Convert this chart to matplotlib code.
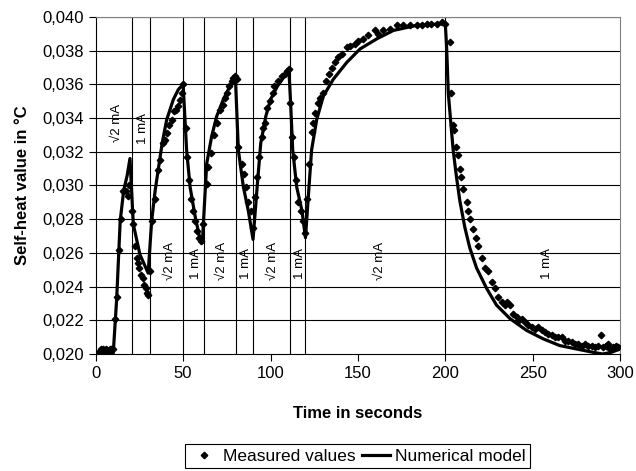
import numpy as np
import matplotlib
matplotlib.use("Agg")
from matplotlib import pyplot as plt
from matplotlib.ticker import FuncFormatter

plt.rcParams['font.family'] = ['Liberation Sans', 'DejaVu Sans']

# measured values (time in s, self-heat in degC)
meas_t = [0, 1, 2, 3, 4, 5, 6, 7, 8, 9, 10, 11, 12, 13.4, 14.3, 15.8, 17.2, 18.2, 19.2,
          20.6, 21.5, 22.5, 23.4, 24.4, 25, 25.7, 26.9, 27.8, 28.6, 29.2, 30.1,
          31, 32, 33.9, 35.8, 36.8, 38.3, 39.6, 40.9, 42.1, 43.5, 44.8, 45.9, 46.9, 48.4, 49.4, 50.2,
          51.7, 52.4, 53.6, 54.6, 55.5, 56.8, 57.8, 58.9, 60.2,
          61.6, 63.5, 64.5, 65.8, 67.7, 69.2, 71.1, 72.6, 74, 75.3, 76.5, 77.8, 78.7, 79.7, 80.6,
          81.6, 83.5, 84.8, 86, 87.3, 88.9, 90.2,
          91.1, 92.1, 93.6, 95, 95.5, 96.9, 97.8, 99.7, 101.2, 102, 104.5, 106.4, 108.3, 109.6, 110.6,
          111.2, 112.1, 113.5, 114.6, 115.9, 117.3, 118.8, 119.7,
          120.7, 122, 123.5, 124.5, 125.5, 127.4, 128.3, 130.2, 131.8, 133.7, 135, 136.9, 138.8, 140.7,
          143.6, 145.5, 148.4, 150.2, 153.1, 156, 159.8, 161.7, 164.5, 168.4, 172.2, 176, 179.8,
          183.6, 186.5, 189.3, 192, 195, 197.9, 199.8,
          202.7, 203.2, 204.2, 205.1, 206, 207.4, 208.3, 208.8, 210.3, 212.2, 213.2, 214.1, 216, 217.6,
          218.9, 220.8, 222.7, 224.6, 226.5, 228.4, 230.3, 232.2, 234.1, 235.5, 237, 239, 240.8, 242.2,
          243.7, 245.6, 247.5, 249.4, 251.3, 253.3, 255.2, 257.1, 259, 260.9, 262.8, 264.7, 266.6,
          268.5, 270.4, 272.3, 274.2, 276.1, 278, 280, 281.9, 283.8, 285.7, 287.5, 289, 290.4, 292,
          293.3, 294.2, 296.1, 297.5, 299]
meas_v = [0.0200, 0.0200, 0.0201, 0.0203, 0.0203, 0.0201, 0.0203, 0.0202, 0.0203, 0.0203, 0.0203,
          0.0221, 0.0234, 0.0262, 0.0280, 0.0297, 0.0297, 0.0294, 0.0300,
          0.0285, 0.0277, 0.0264, 0.0257, 0.0254, 0.0251, 0.0247, 0.0245, 0.0241, 0.0239, 0.0236, 0.0235,
          0.0249, 0.0279, 0.0292, 0.0309, 0.0315, 0.0325, 0.0327, 0.0331, 0.0336, 0.0339, 0.0344,
          0.0345, 0.0347, 0.0351, 0.0355, 0.0360,
          0.0334, 0.0317, 0.0303, 0.0292, 0.0285, 0.0279, 0.0273, 0.0269, 0.0267,
          0.0277, 0.0301, 0.0311, 0.0319, 0.0330, 0.0337, 0.0345, 0.0348, 0.0352, 0.0355, 0.0359,
          0.0362, 0.0364, 0.0365, 0.0363,
          0.0323, 0.0313, 0.0307, 0.0299, 0.0290, 0.0285, 0.0275,
          0.0293, 0.0305, 0.0317, 0.0329, 0.0334, 0.0337, 0.0346, 0.0350, 0.0355, 0.0359, 0.0362,
          0.0365, 0.0366, 0.0368, 0.0369,
          0.0349, 0.0329, 0.0317, 0.0303, 0.0290, 0.0285, 0.0279, 0.0272,
          0.0292, 0.0313, 0.0332, 0.0337, 0.0343, 0.0349, 0.0352, 0.0355, 0.0362, 0.0366, 0.0370,
          0.0373, 0.0376, 0.0378,
          0.0382, 0.0383, 0.0384, 0.0386, 0.0387, 0.0389, 0.0392, 0.0390, 0.0392, 0.0393, 0.0395,
          0.0395, 0.0395,
          0.0395, 0.0395, 0.0396, 0.0396, 0.0396, 0.0397, 0.0396,
          0.0385, 0.0355, 0.0336, 0.0333, 0.0323, 0.0318, 0.0310, 0.0305, 0.0298, 0.0290, 0.0285,
          0.0280, 0.0274, 0.0269,
          0.0264, 0.0257, 0.0251, 0.0249, 0.0243, 0.0239, 0.0234, 0.0231, 0.0229, 0.0231, 0.0229,
          0.0224, 0.0222, 0.0220,
          0.0221, 0.0219, 0.0217, 0.0216, 0.0215, 0.0216, 0.0214, 0.0213, 0.0212, 0.0211, 0.0210,
          0.0210, 0.0210,
          0.0208, 0.0208, 0.0207, 0.0206, 0.0206, 0.0205, 0.0206, 0.0205, 0.0205, 0.0204, 0.0205,
          0.0211, 0.0204, 0.0205,
          0.0206, 0.0203, 0.0204, 0.0205, 0.0204]

# numerical model
model_t = [0, 10, 12, 14, 16, 18, 19.6,
           21.5, 25.3, 30,
           32, 34, 36, 38, 40.6, 44.4, 47.3, 50,
           52, 54, 57, 59.5, 61,
           62, 63.5, 66.3, 69.2, 73, 76.8, 80,
           81.6, 84.5, 87.3, 90,
           92.5, 94.4, 97.3, 100, 104, 107.4, 110.5,
           111.5, 112.7, 115, 118, 120,
           121.6, 123.5, 126.4, 130.2, 135.9, 143.6, 151.2, 160.8, 170.3, 183.6, 199, 200,
           200.8, 201.7, 203, 204.5, 206.4, 208.3, 211.2, 214, 217.9, 223.6, 229.3, 237, 246.5,
           256, 265.5, 275, 284.6, 290, 295, 300]
model_v = [0.0200, 0.0200, 0.0233, 0.0279, 0.0297, 0.0306, 0.0316,
           0.0277, 0.0259, 0.0248,
           0.0279, 0.0297, 0.0311, 0.0325, 0.0339, 0.0351, 0.0357, 0.0360,
           0.0321, 0.0299, 0.0281, 0.0269, 0.0266,
           0.0285, 0.0313, 0.0329, 0.0341, 0.0351, 0.0359, 0.0362,
           0.0321, 0.0299, 0.0285, 0.0268,
           0.0301, 0.0325, 0.0341, 0.0351, 0.0359, 0.0364, 0.0369,
           0.0349, 0.0321, 0.0299, 0.0285, 0.0269,
           0.0293, 0.0321, 0.0339, 0.0353, 0.0363, 0.0373, 0.0381, 0.0387, 0.0392, 0.0395, 0.0396, 0.0396,
           0.0381, 0.0355, 0.0339, 0.0321, 0.0305, 0.0291, 0.0275, 0.0263, 0.0251, 0.0239, 0.0229,
           0.0221, 0.0214,
           0.0209, 0.0205, 0.0203, 0.0201, 0.0200, 0.0201, 0.0203]

# current switching times and labels
switch_t = [21, 31, 50, 62, 80, 90, 111, 120, 200]
label_t = [12, 27.2, 42.5, 57.4, 72, 86, 101.6, 116.9, 162.6, 258]
label_v = [0.0337, 0.0334, 0.02555, 0.0254, 0.02555, 0.0254, 0.02555, 0.0254, 0.02555, 0.0254]
label_txt = ['√2 mA', '1 mA', '√2 mA', '1 mA', '√2 mA', '1 mA', '√2 mA', '1 mA', '√2 mA', '1 mA']

fig = plt.figure(figsize=(6.36, 4.71), dpi=100)
ax = fig.add_axes([0.1505, 0.2484, 0.8245, 0.7156])

for y in np.arange(0.022, 0.0401, 0.002):
    ax.axhline(y, color='black', lw=0.8, zorder=1)
for t in switch_t:
    ax.axvline(t, color='black', lw=0.8, zorder=1)

ax.plot(meas_t, meas_v, 'D', color='black', ms=3.3, label='Measured values', zorder=3)
ax.plot(model_t, model_v, '-', color='black', lw=2.3, label='Numerical model', zorder=4)

for t, v, s in zip(label_t, label_v, label_txt):
    ax.text(t, v, s, rotation=90, ha='center', va='center', fontsize=9.5)

ax.set_xlim(0, 300)
ax.set_ylim(0.020, 0.040)
ax.set_xticks(np.arange(0, 301, 50))
ax.set_yticks(np.arange(0.020, 0.0401, 0.002))
ax.yaxis.set_major_formatter(FuncFormatter(lambda v, p: ('%.3f' % v).replace('.', ',')))
ax.tick_params(direction='out', length=5, width=0.8, labelsize=12, colors='black')

for s in ['top', 'right']:
    ax.spines[s].set_color('#808080')
for s in ['left', 'bottom']:
    ax.spines[s].set_color('black')

ax.set_xlabel('Time in seconds', fontsize=12, fontweight='bold')
ax.set_ylabel('Self-heat value in °C', fontsize=12, fontweight='bold')
ax.xaxis.set_label_coords(0.5, -0.155)
ax.yaxis.set_label_coords(-0.125, 0.5)

leg = ax.legend(loc='center', bbox_to_anchor=(0.5, -0.303), ncol=2, fontsize=12.5,
                frameon=True, fancybox=False, edgecolor='black', framealpha=1,
                handlelength=1.6, handletextpad=0.3, columnspacing=0.4,
                borderpad=0.25, borderaxespad=0)
leg.get_frame().set_linewidth(0.8)

fig.savefig('out.png', dpi=100)
